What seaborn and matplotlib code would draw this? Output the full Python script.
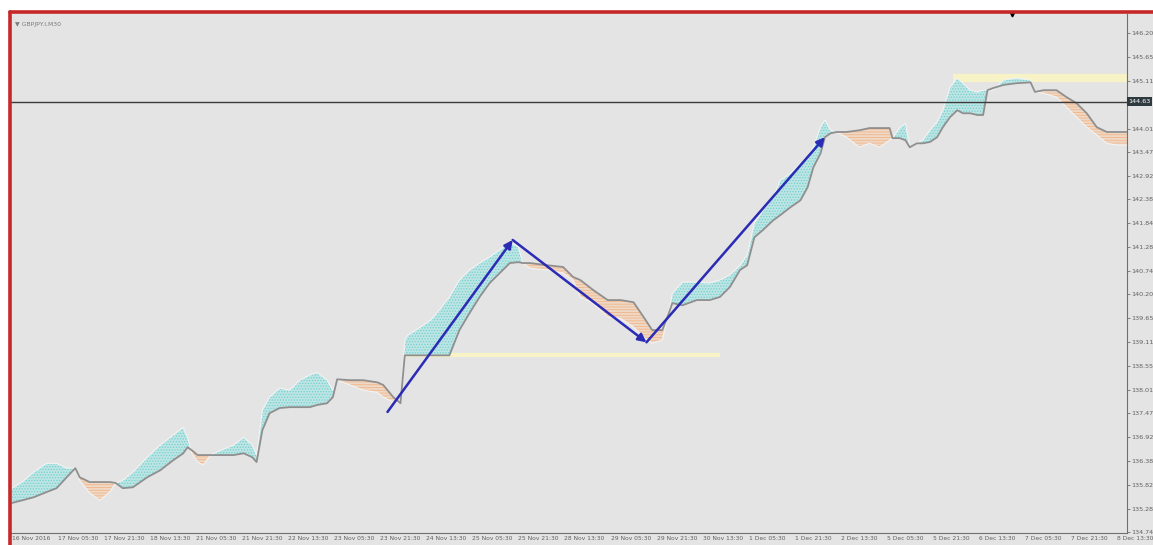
import numpy as np
import pandas as pd
import matplotlib
matplotlib.use("Agg")
import matplotlib.pyplot as plt
from matplotlib.patches import Rectangle
from matplotlib.lines import Line2D
import seaborn as sns

# =============================
# DATA
# =============================
symbol = "GBPJPY.I,M30"

# bar index (M30 bars from the left edge)
bars = [0, 7, 15, 24, 31, 38, 44, 47, 54, 61,
        68, 72, 77, 84, 94, 103, 112, 119, 122, 125,
        129, 133, 138, 145, 154, 161, 167, 170, 174, 179,
        186, 193, 200, 207, 212, 219, 223, 226, 235, 244,
        254, 258, 265, 270, 273, 275, 284, 291, 297, 304,
        311, 318, 325, 332, 339, 346, 352, 355, 360, 372,
        383, 390, 395, 404, 414, 423, 432, 439, 445, 452,
        456, 459, 466, 476, 485, 492, 499, 506, 511, 516,
        522, 529, 534, 541, 548, 553, 557, 562, 565, 569,
        573, 580, 589, 596, 603, 610, 612, 617, 621, 624,
        629, 633, 638, 643, 647, 652, 657, 661, 666, 671,
        675, 678, 682, 689, 698, 708, 711, 717, 726, 733,
        740, 747, 754, 761, 768, 775]

span_a = [135.75, 135.89, 136.12, 136.32, 136.32, 136.21, 136.21, 135.93, 135.64, 135.47,
          135.66, 135.87, 135.93, 136.12, 136.46, 136.74, 136.97, 137.15, 136.92, 136.55,
          136.35, 136.28, 136.51, 136.62, 136.74, 136.92, 136.74, 136.51, 137.54, 137.84,
          138.05, 138.00, 138.23, 138.35, 138.41, 138.23, 138.00, 138.23, 138.12, 138.00,
          137.95, 137.84, 137.73, 137.70, 139.15, 139.26, 139.45, 139.61, 139.84, 140.14,
          140.53, 140.76, 140.92, 141.06, 141.22, 141.40, 141.29, 140.92, 140.80, 140.76,
          140.69, 140.53, 140.14, 140.00, 139.68, 139.65, 139.45, 139.22, 139.08, 139.15,
          139.72, 140.23, 140.48, 140.48, 140.46, 140.53, 140.65, 140.87, 141.10, 141.84,
          142.13, 142.43, 142.82, 142.98, 143.21, 143.35, 143.58, 144.04, 144.20, 143.97,
          143.93, 143.81, 143.58, 143.67, 143.58, 143.74, 143.79, 144.02, 144.13, 143.58,
          143.67, 143.74, 143.97, 144.16, 144.43, 144.96, 145.17, 145.05, 144.89, 144.85,
          144.89, 144.89, 144.89, 145.12, 145.17, 145.12, 144.85, 144.82, 144.73, 144.50,
          144.27, 144.04, 143.86, 143.67, 143.63, 143.63]

span_b = [135.41, 135.47, 135.54, 135.66, 135.75, 136.00, 136.21, 136.00, 135.89, 135.89,
          135.89, 135.87, 135.75, 135.77, 136.00, 136.16, 136.39, 136.55, 136.69, 136.62,
          136.51, 136.51, 136.51, 136.51, 136.51, 136.55, 136.46, 136.35, 137.08, 137.47,
          137.59, 137.61, 137.61, 137.61, 137.66, 137.70, 137.84, 138.25, 138.23, 138.23,
          138.18, 138.12, 137.84, 137.70, 138.80, 138.80, 138.80, 138.80, 138.80, 138.80,
          139.38, 139.77, 140.14, 140.46, 140.69, 140.92, 140.94, 140.92, 140.92, 140.87,
          140.83, 140.60, 140.53, 140.30, 140.07, 140.07, 140.02, 139.68, 139.38, 139.38,
          139.72, 140.00, 139.95, 140.07, 140.07, 140.14, 140.37, 140.76, 140.87, 141.51,
          141.68, 141.90, 142.02, 142.20, 142.36, 142.66, 143.12, 143.44, 143.81, 143.90,
          143.93, 143.93, 143.97, 144.02, 144.02, 144.02, 143.79, 143.79, 143.74, 143.58,
          143.67, 143.67, 143.70, 143.81, 144.04, 144.27, 144.43, 144.36, 144.36, 144.32,
          144.32, 144.89, 144.94, 145.01, 145.05, 145.07, 144.85, 144.89, 144.89, 144.73,
          144.59, 144.36, 144.04, 143.93, 143.93, 143.93]

# zigzag drawn on the chart (bar, price)
zigzag_bars = [261, 348, 441, 565]
zigzag_prices = [137.50, 141.45, 139.10, 143.81]

# horizontal levels: (price, first bar, last bar)
level_prices = [138.80, 145.17]
level_start = [273, 654]
level_end = [492, 775]

current_price = 144.63

y_ticks = [146.20, 145.65, 145.11, 144.01, 143.47, 142.92, 142.38, 141.84,
           141.28, 140.74, 140.20, 139.65, 139.11, 138.55, 138.01, 137.47,
           136.92, 136.38, 135.82, 135.28, 134.74]

x_labels = ["16 Nov 2016", "17 Nov 05:30", "17 Nov 21:30", "18 Nov 13:30",
            "21 Nov 05:30", "21 Nov 21:30", "22 Nov 13:30", "23 Nov 05:30",
            "23 Nov 21:30", "24 Nov 13:30", "25 Nov 05:30", "25 Nov 21:30",
            "28 Nov 13:30", "29 Nov 05:30", "29 Nov 21:30", "30 Nov 13:30",
            "1 Dec 05:30", "1 Dec 21:30", "2 Dec 13:30", "5 Dec 05:30",
            "5 Dec 21:30", "6 Dec 13:30", "7 Dec 05:30", "7 Dec 21:30",
            "8 Dec 13:30"]
bars_per_label = 32


def main():
    sns.set_style("white")
    plt.rcParams["font.family"] = ["DejaVu Sans"]
    plt.rcParams["hatch.linewidth"] = 0.6

    df = pd.DataFrame({"bar": bars, "span_a": span_a, "span_b": span_b})

    fig = plt.figure(figsize=(11.53, 5.45), dpi=100, facecolor="white")
    # chart window background + red frame (MT4 look)
    fig.add_artist(Rectangle((10 / 1153, 0), 1, 1 - 12 / 545,
                             transform=fig.transFigure, facecolor="#e4e4e4",
                             edgecolor="none", zorder=0))
    fig.add_artist(Line2D([9.5 / 1153, 1], [1 - 12 / 545, 1 - 12 / 545],
                          transform=fig.transFigure, color="#c62828", lw=2.6))
    fig.add_artist(Line2D([9.5 / 1153, 9.5 / 1153], [0, 1 - 12 / 545],
                          transform=fig.transFigure, color="#c62828", lw=2.6))

    ax = fig.add_axes([11 / 1153, 12 / 545, 1116 / 1153, 519 / 545])
    ax.set_facecolor("none")

    a = df["span_a"].to_numpy()
    b = df["span_b"].to_numpy()
    x = df["bar"].to_numpy()

    # cloud
    ax.fill_between(x, a, b, where=a >= b, interpolate=True,
                    facecolor="#bde5e4", edgecolor="#74d0d0", hatch="......",
                    linewidth=0, zorder=2)
    ax.fill_between(x, a, b, where=a < b, interpolate=True,
                    facecolor="#eed9c6", edgecolor="#f3b58a", hatch="------",
                    linewidth=0, zorder=2)
    sns.lineplot(data=df, x="bar", y="span_a", ax=ax, color="#f4f4f4",
                 lw=0.8, zorder=3)
    sns.lineplot(data=df, x="bar", y="span_b", ax=ax, color="#8f8f8f",
                 lw=1.3, zorder=4)

    # horizontal levels
    for p, s, e, w in zip(level_prices, level_start, level_end, [3.0, 6.0]):
        ax.plot([s, e], [p, p], color="#f7f3c6", lw=w, solid_capstyle="butt",
                zorder=1)

    # current price line
    ax.axhline(current_price, color="#3a3a3a", lw=1.0, zorder=5)

    # zigzag arrows
    for i in range(len(zigzag_bars) - 1):
        ax.annotate("", xy=(zigzag_bars[i + 1], zigzag_prices[i + 1]),
                    xytext=(zigzag_bars[i], zigzag_prices[i]),
                    arrowprops=dict(arrowstyle="-|>", color="#2b2bb5", lw=1.8,
                                    mutation_scale=12, shrinkA=0, shrinkB=0),
                    zorder=6)

    ax.set_xlim(-0.7, 775)
    ax.set_ylim(134.72, 146.64)

    # axes styling
    for side in ["top", "left"]:
        ax.spines[side].set_visible(False)
    for side in ["right", "bottom"]:
        ax.spines[side].set_color("#707070")
        ax.spines[side].set_linewidth(0.8)

    ax.yaxis.tick_right()
    ax.set_yticks(y_ticks)
    ax.set_yticklabels([f"{v:.2f}" for v in y_ticks])
    ax.tick_params(axis="y", direction="out", length=2, width=0.6,
                   colors="#707070", labelsize=4.6, pad=1, labelcolor="#606060")

    ticks = np.arange(len(x_labels)) * bars_per_label
    ax.set_xticks(ticks)
    ax.set_xticklabels(x_labels, ha="left")
    ax.tick_params(axis="x", direction="in", length=3, width=0.6,
                   colors="#707070", labelsize=4.3, pad=2, labelcolor="#606060")
    ax.set_xlabel("")
    ax.set_ylabel("")

    # current price tag
    ax.text(1.001, current_price, f"{current_price:.2f}",
            transform=ax.get_yaxis_transform(), fontsize=4.6, color="white",
            va="center", ha="left",
            bbox=dict(boxstyle="square,pad=0.25", facecolor="#2e3a40",
                      edgecolor="none"), zorder=7, clip_on=False)

    # symbol caption + shift marker
    ax.text(0.004, 0.985, "\u25bc " + symbol, transform=ax.transAxes,
            fontsize=4.4, color="#7a7a7a", va="top", ha="left")
    ax.plot([0.897], [1.0], marker="v", color="black", markersize=3.5,
            transform=ax.transAxes, clip_on=False)

    plt.savefig("out.png", dpi=100, facecolor=fig.get_facecolor())
    plt.close()


if __name__ == "__main__":
    main()
